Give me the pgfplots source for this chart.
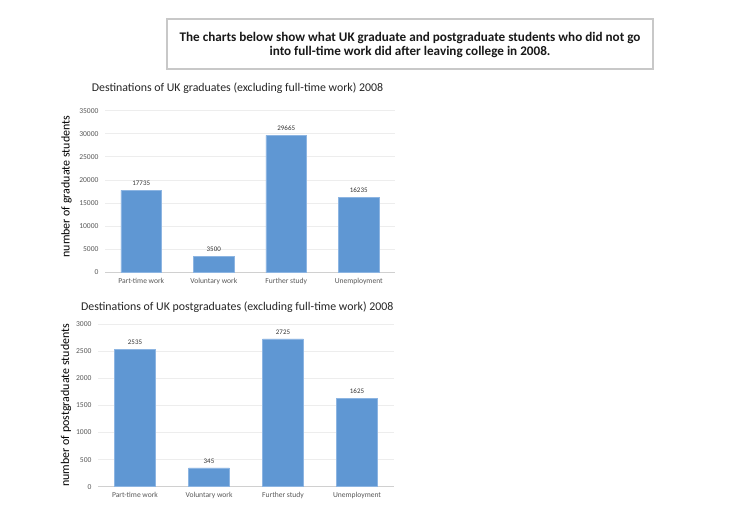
\documentclass[border=0pt]{standalone}
\usepackage{pgfplots}
\pgfplotsset{compat=1.18}
\usepackage{fontspec}
\setmainfont{Carlito}
\definecolor{barblue}{HTML}{5F97D3}
\definecolor{baredge}{HTML}{8DB5E2}
\definecolor{gridc}{HTML}{EDEDED}
\definecolor{axc}{HTML}{D0D0D0}
\definecolor{tickc}{HTML}{595959}
\definecolor{boxc}{HTML}{C8C8C8}
\pgfplotsset{
  mybar/.style={
    scale only axis,
    ybar,
    bar width=40.7bp,
    xmin=-0.5, xmax=3.5,
    xtick={0,1,2,3},
    xticklabels={Part-time work,Voluntary work,Further study,Unemployment},
    ymin=0,
    ymajorgrids,
    grid style={gridc, line width=0.8bp},
    axis x line*=bottom,
    axis y line*=left,
    y axis line style={draw=none},
    x axis line style={axc, line width=1.2bp, -},
    major tick length=0,
    xtick style={draw=none}, ytick style={draw=none},
    tick label style={font=\fontsize{7.6}{8.5}\selectfont, text=tickc},
    xticklabel style={yshift=-2bp},
    yticklabel style={xshift=-3bp},
    scaled y ticks=false,
    /pgf/number format/assume math mode=true,
    /pgf/number format/fixed,
    /pgf/number format/1000 sep={},
    nodes near coords,
    every node near coord/.append style={font=\fontsize{7}{8}\selectfont, text=black!80, yshift=1bp},
    clip=false,
  }
}
\begin{document}
\begin{tikzpicture}[x=1bp,y=1bp]
\path[fill=white] (0,0) rectangle (742,513);
% title box
\draw[boxc, line width=1.5bp] (167,513-19) rectangle (653,513-69);
\node[font=\bfseries\fontsize{13.2}{15}\selectfont, align=center, text=black!90] at (410,513-45)
  {The charts below show what UK graduate and postgraduate students who did not go\\into full-time work did after leaving college in 2008.};
% chart titles
\node[font=\fontsize{11.9}{13}\selectfont, text=black!85] at (237.5,513-88) {Destinations of UK graduates (excluding full-time work) 2008};
\node[font=\fontsize{11.9}{13}\selectfont, text=black!85] at (237.3,513-306.7) {Destinations of UK postgraduates (excluding full-time work) 2008};
% chart 1
\begin{axis}[mybar,
  width=290bp, height=161.6bp,
  at={(105bp,240.7bp)}, anchor=south west,
  ymax=35000, ytick={0,5000,...,35000},
  ylabel={number of graduate students},
  ylabel style={at={(axis description cs:-0.133,0.53)}, anchor=center, font=\fontsize{12}{13}\selectfont},
  ]
\addplot[fill=barblue, draw=baredge, line width=0.6bp] coordinates {(0,17735) (1,3500) (2,29665) (3,16235)};
\end{axis}
% chart 2
\begin{axis}[mybar,
  width=296bp, height=162.7bp,
  at={(98bp,26.3bp)}, anchor=south west,
  ymax=3000, ytick={0,500,...,3000},
  ylabel={number of postgraduate students},
  ylabel style={at={(axis description cs:-0.108,0.5)}, anchor=center, font=\fontsize{12}{13}\selectfont},
  ]
\addplot[fill=barblue, draw=baredge, line width=0.6bp] coordinates {(0,2535) (1,345) (2,2725) (3,1625)};
\end{axis}
\end{tikzpicture}
\end{document}
